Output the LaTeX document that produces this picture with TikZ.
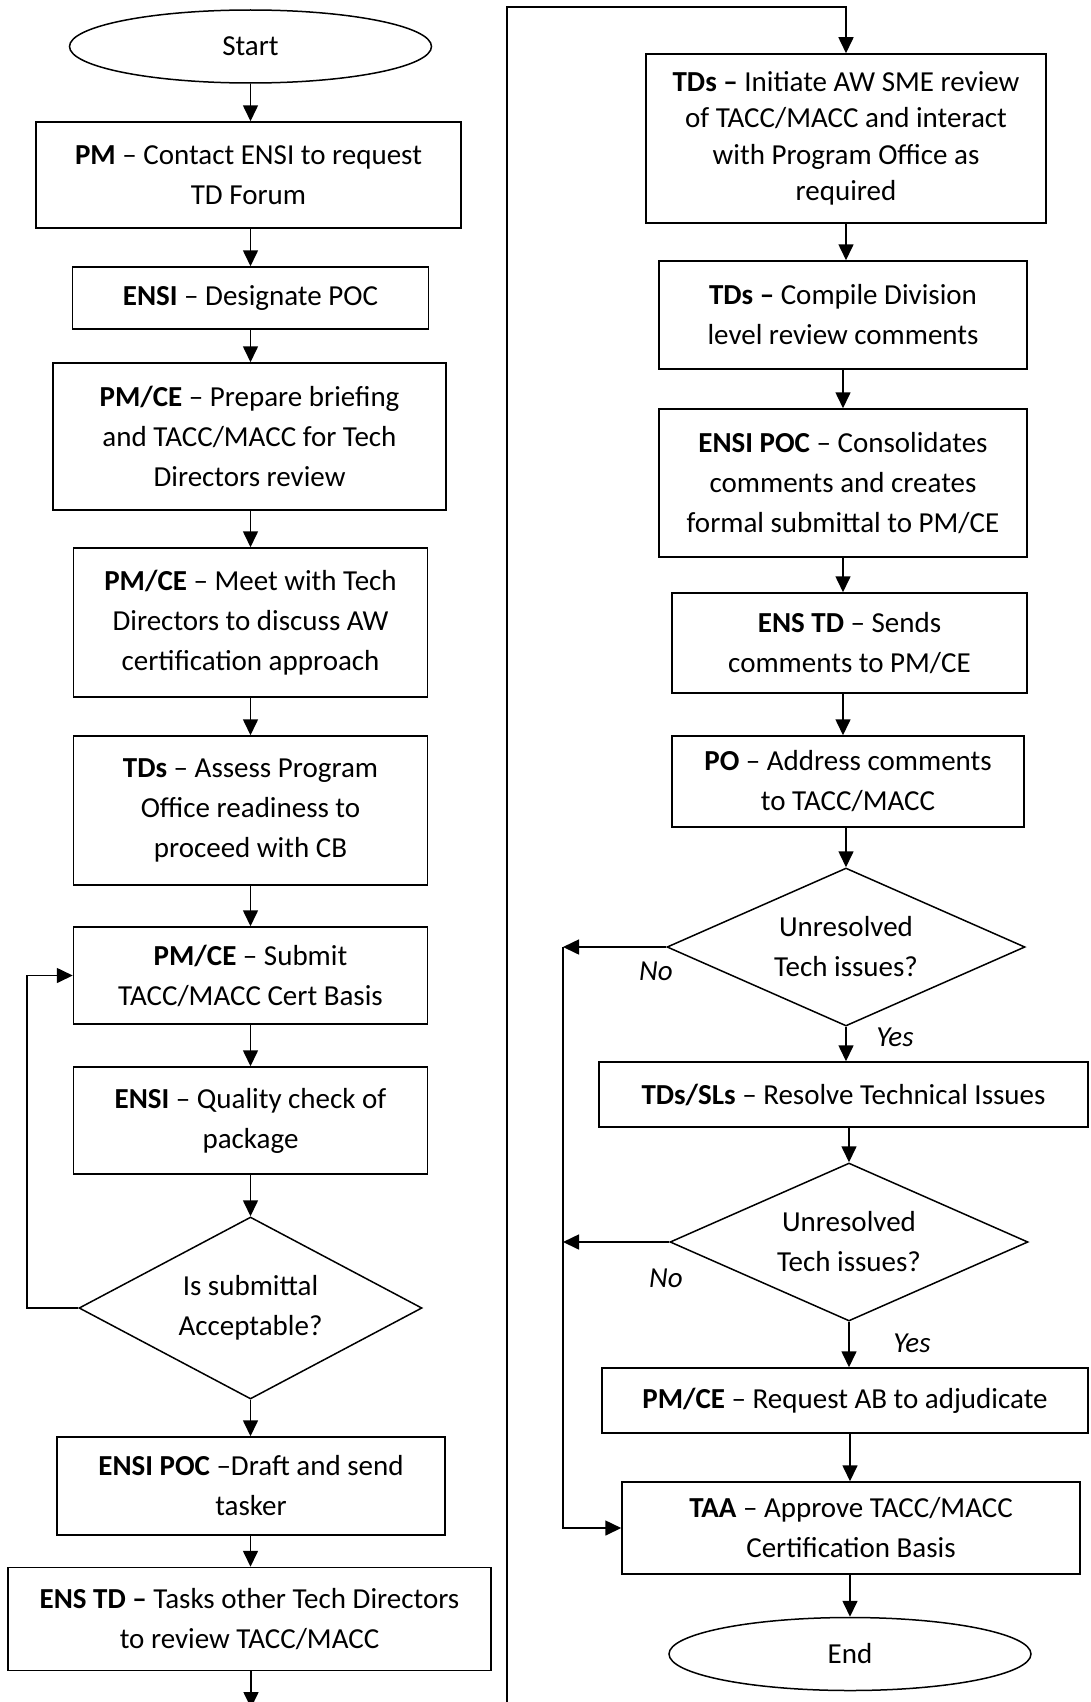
\documentclass[tikz,border=0pt]{standalone}
\usepackage{fontspec}
\setmainfont{Carlito}
\usetikzlibrary{shapes.geometric,arrows.meta}
\begin{document}
\begin{tikzpicture}[x=1pt,y=-1pt,
  txt/.style={font=\fontsize{29}{40}\selectfont},
  box/.style={draw, line width=1.5pt, inner sep=0pt, align=center, txt},
  term/.style={box, ellipse},
  dec/.style={box, diamond, aspect=2},
  lbl/.style={inner sep=0pt, font=\fontsize{29}{40}\selectfont\itshape},
  arr/.style={line width=1.6pt, -{Triangle[width=15pt,length=16pt]}}]
\useasboundingbox (0,0) rectangle (1090,1702);
\fill[white] (0,0) rectangle (1090,1702);
% left column
\node[term, minimum width=362pt, minimum height=73pt] (start) at (250.5,46.5) {Start};
\node[box, minimum width=425pt, minimum height=106pt] (b1) at (248.5,175) {\textbf{PM} – Contact ENSI to request\\TD Forum};
\node[box, minimum width=356pt, minimum height=62pt] (b2) at (250.5,298) {\textbf{ENSI} – Designate POC};
\node[box, minimum width=393pt, minimum height=147pt] (b3) at (249.5,436.5) {\textbf{PM/CE} – Prepare briefing\\and TACC/MACC for Tech\\Directors review};
\node[box, minimum width=354pt, minimum height=149pt] (b4) at (250.5,622.5) {\textbf{PM/CE} – Meet with Tech\\Directors to discuss AW\\certification approach};
\node[box, minimum width=354pt, minimum height=149pt] (b5) at (250.5,810.5) {\textbf{TDs} – Assess Program\\Office readiness to\\proceed with CB};
\node[box, minimum width=354pt, minimum height=97pt] (b6) at (250.5,975.5) {\textbf{PM/CE} – Submit\\TACC/MACC Cert Basis};
\node[box, minimum width=354pt, minimum height=107pt] (b7) at (250.5,1120.5) {\textbf{ENSI} – Quality check of\\package};
\node[dec, minimum width=343pt, minimum height=182pt] (d1) at (250.5,1308) {Is submittal\\Acceptable?};
\node[box, minimum width=388pt, minimum height=98pt] (b8) at (251,1486) {\textbf{ENSI POC} –Draft and send\\tasker};
\node[box, minimum width=483pt, minimum height=103pt] (b9) at (249.5,1619) {\textbf{ENS TD –} Tasks other Tech Directors\\to review TACC/MACC};
\coordinate (lb) at (251,1708);
% right column
\node[box, minimum width=400pt, minimum height=169pt, font=\fontsize{29}{36.5}\selectfont] (r1) at (846,138.5) {\textbf{TDs –} Initiate AW SME review\\of TACC/MACC and interact\\with Program Office as\\required};
\node[box, minimum width=368pt, minimum height=108pt] (r2) at (843,315) {\textbf{TDs –} Compile Division\\level review comments};
\node[box, minimum width=368pt, minimum height=148pt] (r3) at (843,483) {\textbf{ENSI POC} – Consolidates\\comments and creates\\formal submittal to PM/CE};
\node[box, minimum width=355pt, minimum height=100pt] (r4) at (849.5,643) {\textbf{ENS TD} – Sends\\comments to PM/CE};
\node[box, minimum width=352pt, minimum height=91pt] (r5) at (848,781.5) {\textbf{PO} – Address comments\\to TACC/MACC};
\node[dec, minimum width=358pt, minimum height=158pt] (d2) at (846,947) {Unresolved\\Tech issues?};
\node[box, minimum width=489pt, minimum height=65pt] (r6) at (843.5,1094.5) {\textbf{TDs/SLs} – Resolve Technical Issues};
\node[dec, minimum width=358pt, minimum height=158pt] (d3) at (849,1242) {Unresolved\\Tech issues?};
\node[box, minimum width=486pt, minimum height=65pt] (r7) at (845,1400.5) {\textbf{PM/CE} – Request AB to adjudicate};
\node[box, minimum width=458pt, minimum height=92pt] (r8) at (851,1528) {\textbf{TAA} – Approve TACC/MACC\\Certification Basis};
\node[term, minimum width=362pt, minimum height=73pt] (end) at (850,1654) {End};
% labels
\node[lbl] (no1) at (656,971) {No};
\node[lbl] (yes1) at (895,1037) {Yes};
\node[lbl] (no2) at (666,1278) {No};
\node[lbl] (yes2) at (912,1343) {Yes};
% connectors left
\draw[arr] (start.south) -- (start.south |- b1.north);
\draw[arr] (b1.south -| start.south) -- (start.south |- b2.north);
\draw[arr] (b2.south) -- (b2.south |- b3.north);
\draw[arr] (b3.south -| b2.south) -- (b2.south |- b4.north);
\draw[arr] (b4.south) -- (b5.north);
\draw[arr] (b5.south) -- (b6.north);
\draw[arr] (b6.south) -- (b7.north);
\draw[arr] (b7.south) -- (d1.north);
\draw[arr] (d1.south) -- (d1.south |- b8.north);
\draw[arr] (b8.south -| d1.south) -- (d1.south |- b9.north);
\draw[arr] (b9.south -| lb) -- (lb);
\draw[arr] (d1.west) -- ++(-51,0) |- (b6.west);
% long connector to right column
\coordinate (cb) at (507,1702);
\coordinate (ct) at (507,7);
\draw[arr] (cb) -- (ct) -| (r1.north);
% connectors right
\draw[arr] (r1.south) -- (r1.south |- r2.north);
\draw[arr] (r2.south) -- (r2.south |- r3.north);
\draw[arr] (r3.south) -- (r3.south |- r4.north);
\draw[arr] (r4.south -| r3.south) -- (r3.south |- r5.north);
\draw[arr] (r5.south -| d2.north) -- (d2.north);
\draw[arr] (d2.south) -- (d2.south |- r6.north);
\draw[arr] (r6.south -| d3.north) -- (d3.north);
\draw[arr] (d3.south) -- (d3.south |- r7.north);
\draw[arr] (r7.south -| end.north) -- (end.north |- r8.north);
\draw[arr] (r8.south -| end.north) -- (end.north);
\coordinate (L) at (563,0);
\draw[arr] (d2.west) -- (d2.west -| L);
\draw[arr] (d3.west) -- (d3.west -| L);
\draw[arr] (d2.west -| L) -- (r8.west -| L) -- (r8.west);
\end{tikzpicture}
\end{document}
